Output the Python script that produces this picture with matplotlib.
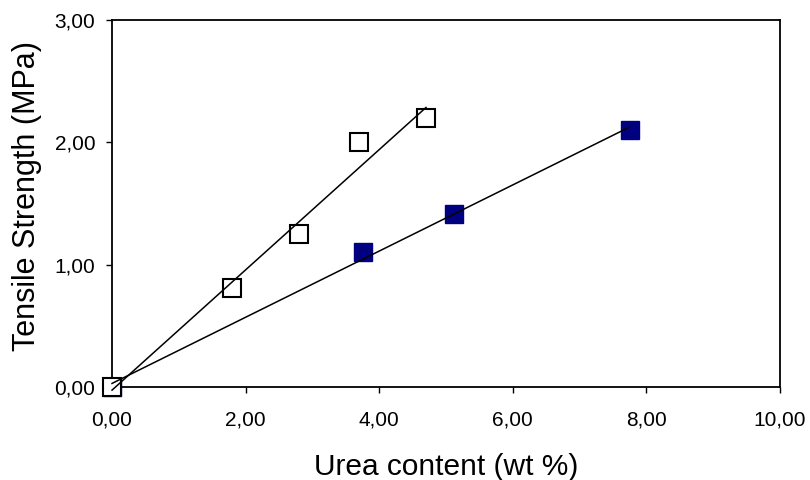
import numpy as np
import matplotlib.pyplot as plt

plt.rcParams['font.family'] = ['Liberation Sans', 'DejaVu Sans']

# open squares series
open_x = [0.0, 1.80, 2.80, 3.70, 4.70]
open_y = [0.0, 0.81, 1.25, 2.00, 2.20]

# filled squares series
filled_x = [0.0, 3.75, 5.12, 7.75]
filled_y = [0.0, 1.10, 1.41, 2.10]

x_ticks = [0, 2, 4, 6, 8, 10]
y_ticks = [0, 1, 2, 3]


def comma(v):
    return f"{v:.2f}".replace('.', ',')


fig = plt.figure(figsize=(8.1, 4.8), dpi=100)
ax = fig.add_axes([0.1383, 0.194, 0.8247, 0.7643])

ax.plot(filled_x, filled_y, 's', ms=13.5, color='#000080', mec='#000080',
        zorder=2, clip_on=False)
ax.plot(open_x, open_y, 's', ms=12.5, mfc='white', mec='black', mew=1.5,
        zorder=3, clip_on=False)

# linear trendlines
for xs, ys in [(open_x, open_y), (filled_x, filled_y)]:
    k, b = np.polyfit(xs, ys, 1)
    xx = np.array([min(xs), max(xs)])
    ax.plot(xx, k * xx + b, color='black', lw=1.1, zorder=4, clip_on=False)

ax.set_xlim(0, 10)
ax.set_ylim(0, 3)
ax.set_xticks(x_ticks)
ax.set_yticks(y_ticks)
ax.set_xticklabels([comma(v) for v in x_ticks])
ax.set_yticklabels([comma(v) for v in y_ticks])
ax.tick_params(direction='out', length=4, width=1, labelsize=15)
ax.tick_params(axis='x', pad=13)
ax.tick_params(axis='y', pad=8)
for s in ax.spines.values():
    s.set_linewidth(1.3)
    s.set_color('black')

ax.set_xlabel('Urea content (wt %)', fontsize=21.5, labelpad=17)
ax.set_ylabel('Tensile Strength (MPa)', fontsize=22, labelpad=9)
ax.yaxis.label.set_y(0.52)

fig.savefig('out.png', dpi=100)
